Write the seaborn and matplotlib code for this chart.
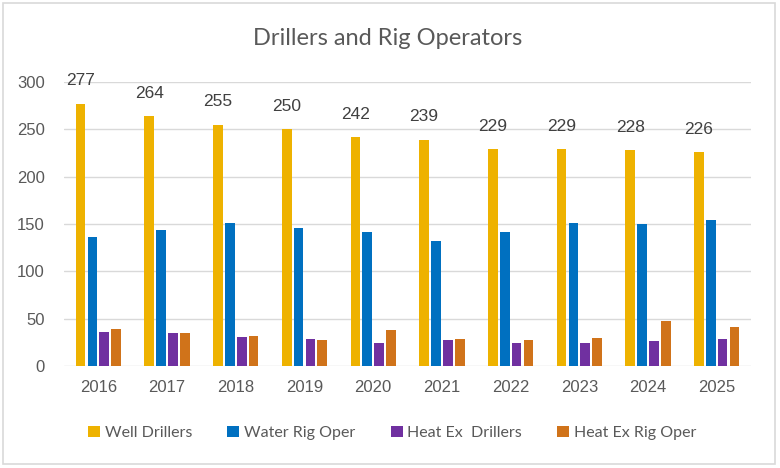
import matplotlib
matplotlib.use("Agg")
import matplotlib.pyplot as plt
import seaborn as sns
import pandas as pd
from matplotlib.patches import Rectangle, Patch

years = ["2016", "2017", "2018", "2019", "2020", "2021", "2022", "2023", "2024", "2025"]
well_drillers = [277, 264, 255, 250, 242, 239, 229, 229, 228, 226]
water_rig_oper = [136, 144, 151, 146, 141, 132, 142, 151, 150, 154]
heat_ex_drillers = [36, 35, 31, 29, 24, 27, 24, 24, 26, 29]
heat_ex_rig_oper = [39, 35, 32, 27, 38, 29, 27, 30, 48, 41]
series_names = ["Well Drillers", "Water Rig Oper", "Heat Ex  Drillers", "Heat Ex Rig Oper"]
colors = ["#EEB200", "#0070C0", "#7030A0", "#D0731A"]

rows = []
for name, vals in zip(series_names, [well_drillers, water_rig_oper, heat_ex_drillers, heat_ex_rig_oper]):
    for y, v in zip(years, vals):
        rows.append({"Year": y, "Series": name, "Value": v})
df = pd.DataFrame(rows)

sns.set_theme(style="white")
plt.rcParams["font.family"] = ["Lato", "DejaVu Sans"]

fig = plt.figure(figsize=(7.8, 4.68), dpi=100)
ax = fig.add_axes([0.0821, 0.218, 0.8808, 0.607])

sns.barplot(data=df, x="Year", y="Value", hue="Series", palette=colors,
            width=0.69, gap=0.18, ax=ax, legend=False, saturation=1,
            linewidth=0, edgecolor="none")

ax.set_ylim(0, 300)
ax.set_yticks(range(0, 301, 50))
ax.grid(axis="y", color="#D9D9D9", linewidth=1)
ax.set_axisbelow(True)
for s in ax.spines.values():
    s.set_visible(False)
ax.set_xlabel("")
ax.set_ylabel("")
ax.tick_params(axis="both", length=0, labelsize=12, colors="#595959")
ax.tick_params(axis="x", pad=10)
ax.tick_params(axis="y", pad=14)
for lab in ax.get_xticklabels() + ax.get_yticklabels():
    lab.set_family(["Liberation Sans", "DejaVu Sans"])
ax.set_xlim(-0.5, len(years) - 0.5)

# data labels on Well Drillers
cont = ax.containers[0]
ax.bar_label(cont, labels=[str(v) for v in well_drillers], padding=11,
             fontsize=12.5, color="#404040", family=["Liberation Sans", "DejaVu Sans"])

fig.text(0.497, 0.918, "Drillers and Rig Operators", ha="center", va="center",
         fontsize=17, color="#595959")

handles = [Patch(facecolor=c, edgecolor="none") for c in colors]
fig.legend(handles, series_names, loc="center", bbox_to_anchor=(0.503, 0.075),
           ncol=4, frameon=False, fontsize=11.5, handlelength=0.75, handleheight=0.75,
           handletextpad=0.3, columnspacing=2.2, labelcolor="#595959")

fig.patches.append(Rectangle((0.004, 0.008), 0.99, 0.985, transform=fig.transFigure,
                             fill=False, edgecolor="#D9D9D9", linewidth=1.2))

fig.savefig("out.png", dpi=100)
